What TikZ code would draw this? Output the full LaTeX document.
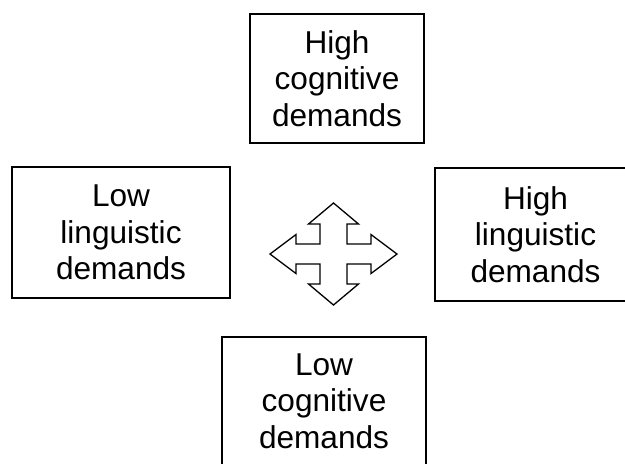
\documentclass[tikz,border=0pt]{standalone}
\usepackage{fontspec}
\setmainfont{Liberation Sans}
\begin{document}
\begin{tikzpicture}[x=1pt,y=-1pt,
  demandbox/.style={draw=black,line width=1.5pt,align=center,inner sep=0pt,
    font=\fontsize{31.6}{36.5}\selectfont},
  movearrow/.style={draw=black,line width=1.3pt,fill=white,line join=miter}]
\useasboundingbox (0,0) rectangle (625,464);
\clip (0,0) rectangle (625,464);
\node[demandbox,minimum width=174pt,minimum height=129pt] (hc) at (337,78.5) {High\\cognitive\\demands};
\node[demandbox,minimum width=218pt,minimum height=131pt] (ll) at (121,232.5) {Low\\linguistic\\demands};
\node[demandbox,minimum width=201pt,minimum height=133pt] (hl) at (535.5,234.5) {High\\linguistic\\demands};
\node[demandbox,minimum width=204pt,minimum height=128pt] (lc) at (324,401) {Low\\cognitive\\demands};
\draw[movearrow] (333.5,203) -- (358.5,224) -- (347,224) -- (347,244) -- (371,244) -- (371,234.5)
  -- (397,254) -- (371,273.5) -- (371,264) -- (347,264) -- (347,284) -- (358.5,284)
  -- (333.5,305) -- (308.5,284) -- (320,284) -- (320,264) -- (296,264) -- (296,273.5)
  -- (270,254) -- (296,234.5) -- (296,244) -- (320,244) -- (320,224) -- (308.5,224) -- cycle;
\end{tikzpicture}
\end{document}
